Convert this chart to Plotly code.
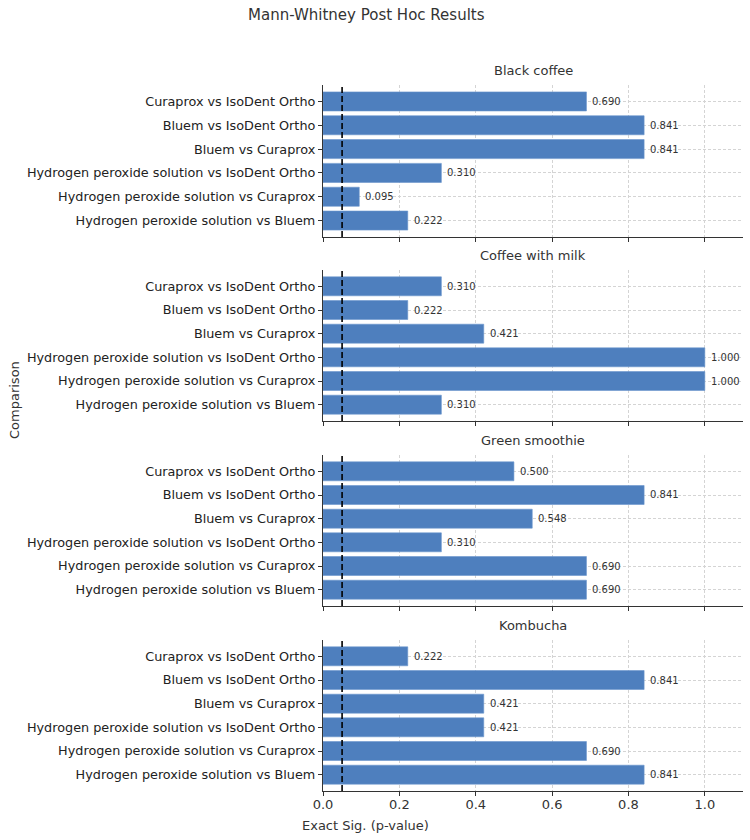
import plotly.graph_objects as go

comparisons = [
    "Hydrogen peroxide solution vs Bluem",
    "Hydrogen peroxide solution vs Curaprox",
    "Hydrogen peroxide solution vs IsoDent Ortho",
    "Bluem vs Curaprox",
    "Bluem vs IsoDent Ortho",
    "Curaprox vs IsoDent Ortho",
]
drinks = ["Black coffee", "Coffee with milk", "Green smoothie", "Kombucha"]
black_coffee = [0.222, 0.095, 0.310, 0.841, 0.841, 0.690]
coffee_with_milk = [0.310, 1.000, 1.000, 0.421, 0.222, 0.310]
green_smoothie = [0.690, 0.690, 0.310, 0.548, 0.841, 0.500]
kombucha = [0.841, 0.690, 0.421, 0.421, 0.841, 0.222]
series = [black_coffee, coffee_with_milk, green_smoothie, kombucha]
x_ticks = [0.0, 0.2, 0.4, 0.6, 0.8, 1.0]
alpha = 0.05

W, H = 750, 840
FONT = "DejaVu Sans"
BAR = "#4e7fbe"

# pixel layout of panels (top, bottom)
panels_px = [(85, 237), (270, 421), (455, 606), (640, 791)]
x0_px, x1_px = 323, 743

fig = go.Figure()
layout = dict(
    width=W, height=H,
    margin=dict(l=0, r=0, t=0, b=0, autoexpand=False),
    paper_bgcolor="white", plot_bgcolor="white",
    showlegend=False,
    font=dict(family=FONT, color="#333333"),
)
annotations = []
shapes = []
ypos = list(range(len(comparisons)))
for i, (drink, vals) in enumerate(zip(drinks, series)):
    n = i + 1
    xa = "x" if n == 1 else f"x{n}"
    ya = "y" if n == 1 else f"y{n}"
    fig.add_trace(go.Bar(
        x=vals, y=ypos, orientation="h",
        marker=dict(color=BAR, line=dict(color="#6a95cc", width=0.6)),
        width=0.8,
        xaxis=xa, yaxis=ya,
        hoverinfo="x+y",
    ))
    for v, yv in zip(vals, ypos):
        annotations.append(dict(
            text=f"{v:.3f}", xref=xa, yref=ya, x=v, y=yv,
            xanchor="left", yanchor="middle", xshift=4, showarrow=False,
            font=dict(size=10, family=FONT, color="#333333"),
        ))
    top, bot = panels_px[i]
    dom_y = [1 - bot / H, 1 - top / H]
    layout["xaxis" if n == 1 else f"xaxis{n}"] = dict(
        domain=[x0_px / W, x1_px / W], anchor=ya, automargin=False,
        range=[0, 1.1], tickvals=x_ticks,
        ticktext=[f"{t:.1f}" for t in x_ticks],
        showticklabels=(n == 4),
        ticks="outside", ticklen=4, tickcolor="#333333",
        ticklabelstandoff=-3,
        showline=True, linecolor="#333333", linewidth=1.2,
        showgrid=True, gridcolor="#d4d4d4", griddash="3px,2px", gridwidth=0.8,
        zeroline=False,
        tickfont=dict(size=13, family=FONT, color="#333333"),
        **({} if n == 1 else {"matches": "x"}),
    )
    layout["yaxis" if n == 1 else f"yaxis{n}"] = dict(
        domain=dom_y, anchor=xa, automargin=False,
        range=[-0.69, 5.69], tickvals=ypos, ticktext=comparisons,
        ticks="outside", ticklen=4, tickcolor="#333333",
        showline=True, linecolor="#333333", linewidth=1.2,
        showgrid=True, gridcolor="#d4d4d4", griddash="3px,2px", gridwidth=0.8,
        zeroline=False,
        tickfont=dict(size=12.8, family=FONT, color="#222222"),
    )
    shapes.append(dict(
        type="line", xref=xa, yref=f"{ya} domain",
        x0=alpha, x1=alpha, y0=0, y1=1,
        line=dict(color="black", width=1.6, dash="6px,3px"),
        layer="above",
    ))
    annotations.append(dict(
        text=drink, xref="paper", yref="paper",
        x=(x0_px + x1_px) / 2 / W, y=1 - (top - 15) / H,
        xanchor="center", yanchor="middle", showarrow=False,
        font=dict(size=13, family=FONT, color="#333333"),
    ))

annotations.append(dict(
    text="Mann-Whitney Post Hoc Results", xref="paper", yref="paper",
    x=366 / W, y=1 - 15 / H, xanchor="center", yanchor="middle",
    showarrow=False, font=dict(size=15, family=FONT, color="#333333"),
))
annotations.append(dict(
    text="Exact Sig. (p-value)", xref="paper", yref="paper",
    x=365 / W, y=1 - 825 / H, xanchor="center", yanchor="middle",
    showarrow=False, font=dict(size=13, family=FONT, color="#333333"),
))
annotations.append(dict(
    text="Comparison", xref="paper", yref="paper",
    x=14 / W, y=1 - 400 / H, xanchor="center", yanchor="middle",
    textangle=-90, showarrow=False,
    font=dict(size=13, family=FONT, color="#333333"),
))
layout["annotations"] = annotations
layout["shapes"] = shapes
fig.update_layout(**layout)
fig.write_html("out.html")
